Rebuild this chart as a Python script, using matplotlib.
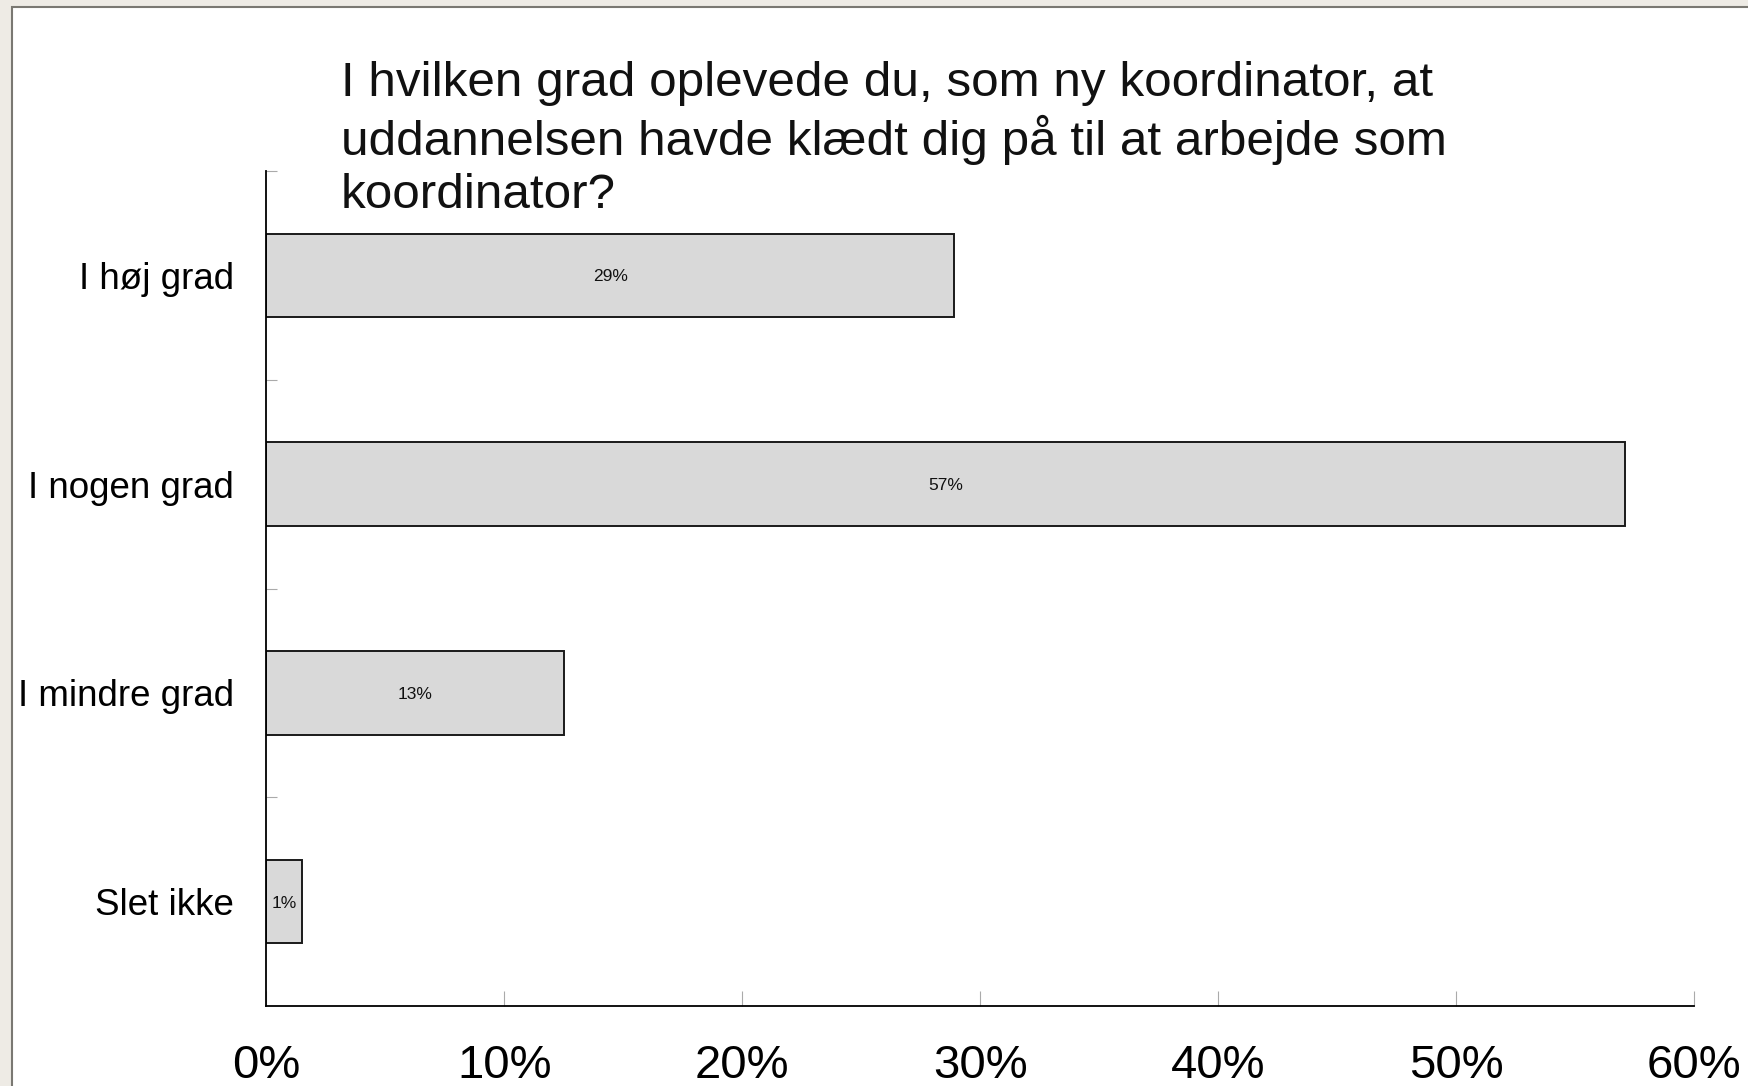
import matplotlib
matplotlib.use("Agg")
import matplotlib.pyplot as plt
from matplotlib.patches import Rectangle
from matplotlib.ticker import FixedLocator, PercentFormatter

plt.rcParams['font.family'] = ['Liberation Sans', 'DejaVu Sans']

categories = ["I høj grad", "I nogen grad", "I mindre grad", "Slet ikke"]
values = [28.9, 57.1, 12.5, 1.5]
bar_labels = ["29%", "57%", "13%", "1%"]
x_ticks = [0, 10, 20, 30, 40, 50, 60]
title = ("I hvilken grad oplevede du, som ny koordinator, at\n"
         "uddannelsen havde klædt dig på til at arbejde som\n"
         "koordinator?")

W, H = 1749, 1086
fig = plt.figure(figsize=(W / 100, H / 100), dpi=100)
fig.patch.set_facecolor('#eeebe5')
fig.add_artist(Rectangle((12 / W, -0.01), 1.0, 1 - 7 / H + 0.01,
                         transform=fig.transFigure, facecolor='white',
                         edgecolor='#7a7872', linewidth=1.5, zorder=0))

ax = fig.add_axes([266.5 / W, 80 / H, (1694 - 266.5) / W, (1006 - 171) / H])
ax.set_facecolor('none')

ypos = list(range(len(categories)))[::-1]
bars = ax.barh(ypos, values, height=0.4, color='#d9d9d9', edgecolor='#1a1a1a',
               linewidth=1.4, zorder=2)
for b, lab in zip(bars, bar_labels):
    ax.text(b.get_x() + b.get_width() / 2, b.get_y() + b.get_height() / 2, lab,
            ha='center', va='center_baseline', fontsize=12.5, color='#111111',
            zorder=3)

ax.set_xlim(0, 60)
ax.set_ylim(-0.5, len(categories) - 0.5)
ax.set_yticks(ypos)
ax.set_yticklabels(categories, fontsize=26.5)
ax.yaxis.set_minor_locator(FixedLocator([0.5, 1.5, 2.5, 3.5]))
ax.tick_params(axis='y', which='major', length=0, pad=23.4)
ax.tick_params(axis='y', which='minor', direction='in', length=8, width=0.8,
               color='#aaaaaa')
ax.set_xticks(x_ticks)
ax.xaxis.set_major_formatter(PercentFormatter(decimals=0))
ax.tick_params(axis='x', direction='in', length=11, width=0.8, color='#aaaaaa',
               labelsize=34, pad=27)

for s in ['top', 'right']:
    ax.spines[s].set_visible(False)
for s in ['left', 'bottom']:
    ax.spines[s].set_linewidth(1.3)
    ax.spines[s].set_color('black')

fig.text(341 / W, 1 - 61 / H, title, ha='left', va='top',
         fontsize=35.6, linespacing=1.22, color='#111111')

fig.savefig('out.png', dpi=100, facecolor=fig.get_facecolor())
